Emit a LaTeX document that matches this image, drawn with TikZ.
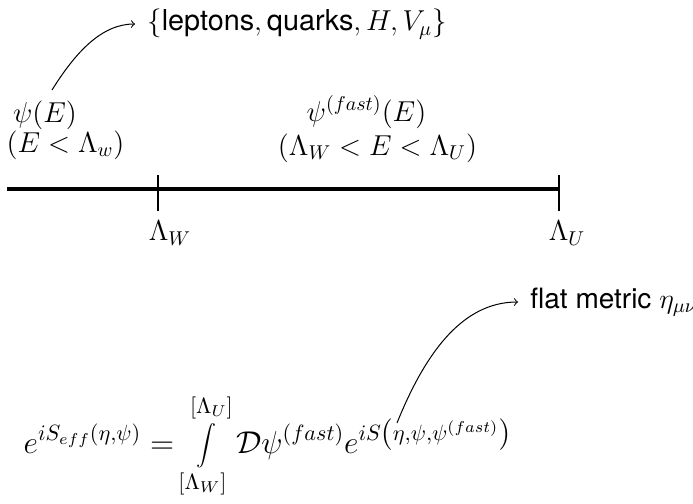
\RequirePackage{fix-cm}
\documentclass[tikz,border=0pt]{standalone}
\usepackage{fontspec}
\newfontfamily\hv{TeX Gyre Heros}
\begin{document}
\begin{tikzpicture}[x=0.5pt,y=-0.5pt,
  lbl/.style={font=\Large, inner sep=0pt},
  conn/.style={->, line width=0.5pt},
  tick/.style={line width=0.6pt}]
\useasboundingbox (0,0) rectangle (693,504);
\node[lbl, anchor=west] (top) at (147,24) {$\{\mbox{\hv leptons}, \mbox{\hv quarks}, H, V_\mu\}$};
\node[lbl] (psi) at (45,115) {$\psi(E)$};
\node[lbl] (psir) at (65.5,145) {$(E<\Lambda_w)$};
\node[lbl] (psif) at (366.5,112) {$\psi^{(fast)}(E)$};
\node[lbl] (psifr) at (377.5,148) {$(\Lambda_W<E<\Lambda_U)$};
\coordinate (a0) at (7,189);
\coordinate (w) at (158,189);
\coordinate (u) at (559,189);
\draw[line width=2pt] (a0) -- (u);
\draw[tick] ([yshift=-11pt]w) -- ([yshift=7pt]w);
\draw[tick] ([yshift=-11pt]u) -- ([yshift=7pt]u);
\node[lbl] (lw) at (170,233) {$\Lambda_W$};
\node[lbl] (lu) at (567,233) {$\Lambda_U$};
\node[lbl, anchor=west, font=\fontsize{14}{17}\selectfont] (flat) at (530,302) {\hv flat metric $\eta_{\mu\nu}$};
\node[inner sep=0pt, font=\fontsize{15.8}{19}\selectfont] (eq) at (267.5,446) {$\displaystyle e^{iS_{eff}(\eta,\psi)} = \int\limits_{\rule{0pt}{9pt}[\Lambda_W]}^{[\Lambda_U]\rule[-4pt]{0pt}{4pt}} \mathcal{D}\psi^{(fast)} e^{iS\left(\eta,\psi,\psi^{(fast)}\right)}$};
\coordinate (t1) at (52,90);
\coordinate (t2) at (397,423);
\draw[conn, shorten >=6pt] (t1) to[out=58,in=180] (top.west);
\draw[conn, shorten >=6pt] (t2) to[out=68,in=180] (flat.west);
\end{tikzpicture}
\end{document}
